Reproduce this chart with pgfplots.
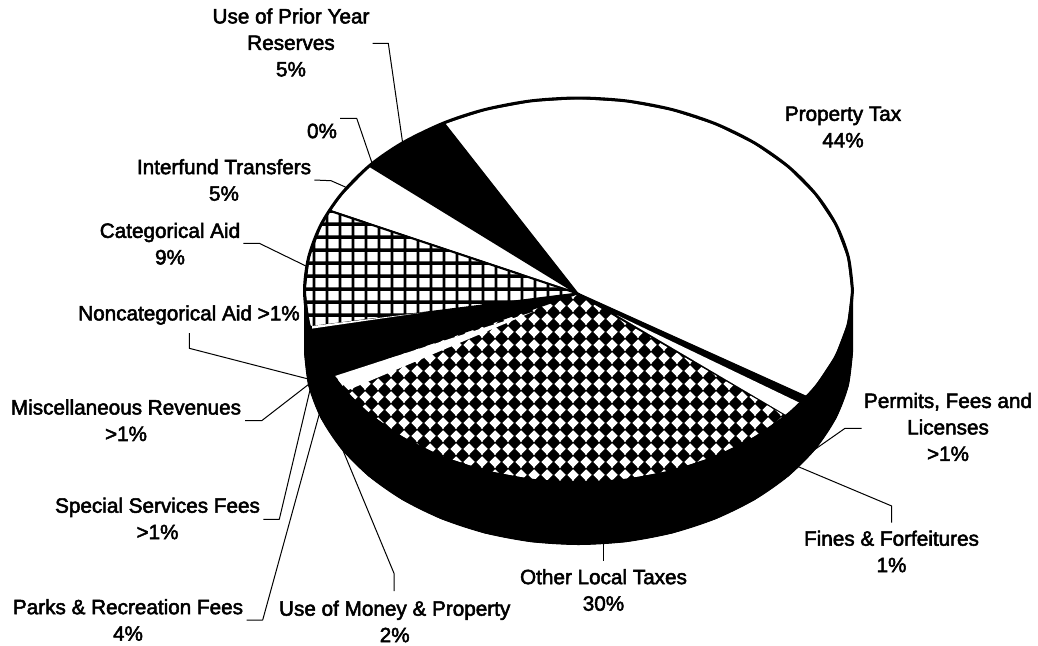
\documentclass[border=0pt]{standalone}
\usepackage{fontspec}
\setmainfont[FakeBold=2.5]{Liberation Sans}
\usepackage{pgfplots}
\usepackage{pgfplotstable}
\pgfplotsset{compat=1.18}
\usetikzlibrary{patterns}
\tikzset{lbl/.style={align=center, font=\fontsize{20.7}{26.5}\selectfont, inner sep=0pt, text=black}}
% square grid of lines, 12.7 px period
\newcommand{\gridrects}[2]{%
  \foreach \k in {-1,0,1}{%
    \pgfmathsetmacro{\xa}{#1+\k*12.7-1.5}%
    \pgfmathsetmacro{\ya}{#2+\k*12.7-1.5}%
    \pgfpathrectangle{\pgfqpoint{\xa pt}{-1pt}}{\pgfqpoint{3pt}{15pt}}%
    \pgfpathrectangle{\pgfqpoint{-1pt}{\ya pt}}{\pgfqpoint{15pt}{3pt}}%
  }%
  \pgfusepath{fill}}
\pgfdeclarepatternformonly{gridlines}{\pgfqpoint{0pt}{0pt}}{\pgfqpoint{12.7pt}{12.7pt}}{\pgfqpoint{12.7pt}{12.7pt}}{\gridrects{9.2}{0.2}}
% square lattice of diamonds
\newcommand{\diamondat}[2]{%
  \pgfpathmoveto{\pgfqpoint{\dimexpr#1pt-5.8pt}{#2pt}}%
  \pgfpathlineto{\pgfqpoint{#1pt}{\dimexpr#2pt+5.8pt}}%
  \pgfpathlineto{\pgfqpoint{\dimexpr#1pt+5.8pt}{#2pt}}%
  \pgfpathlineto{\pgfqpoint{#1pt}{\dimexpr#2pt-5.8pt}}%
  \pgfpathclose}
\pgfdeclarepatternformonly{diamondlattice}{\pgfqpoint{0pt}{0pt}}{\pgfqpoint{12.78pt}{12.72pt}}{\pgfqpoint{12.78pt}{12.72pt}}{%
  \diamondat{7.2}{5.16}\diamondat{-5.58}{5.16}\diamondat{7.2}{17.88}\diamondat{7.2}{-7.56}\diamondat{19.98}{5.16}%
  \pgfusepath{fill}}
\pgfplotstableread{
x y
577.5 293.5
309.5 327.2
308.7 323.9
304.5 290.5
308.7 257.1
321.0 224.7
329.2 210.6
577.5 293.5
}\catsec
\pgfplotstableread{
x y
577.5 293.5
786.8 415.5
754.6 438.0
715.5 457.2
672.2 471.4
626.1 480.1
578.5 483.0
530.9 480.1
484.8 471.4
441.5 457.2
402.4 438.0
368.6 414.3
346.2 392.5
333.3 376.4
577.5 293.5
}\othersec
\pgfplotstableread{
x y
852.5 290.5
848.3 323.9
836.0 356.3
815.8 386.8
788.4 414.2
754.6 438.0
715.5 457.2
672.2 471.4
626.1 480.1
578.5 483.0
530.9 480.1
484.8 471.4
441.5 457.2
402.4 438.0
368.6 414.3
341.2 386.8
321.0 356.3
308.7 323.9
304.5 290.5
308.7 257.1
321.0 224.7
341.2 194.3
369.4 165.8
402.4 143.0
443.7 123.0
484.8 109.6
530.9 100.9
578.5 98.0
626.1 100.9
672.2 109.6
715.5 123.8
754.6 143.0
788.4 166.7
815.8 194.3
836.0 224.7
848.3 257.1
852.5 290.5
}\rim
\begin{document}
\begin{tikzpicture}
\begin{axis}[
  scale only axis, width=1038pt, height=645pt,
  xmin=0, xmax=1038, ymin=0, ymax=645, y dir=reverse,
  hide axis, clip=false,
  every axis plot/.append style={line join=round},
]
\path (axis cs:0,0) rectangle (axis cs:1038,645);
% side of the pie
\addplot[fill=black, draw=black, line width=1pt, smooth] coordinates {
(852.5,352)(848.3,385.4)(836,417.8)(815.8,448.3)(788.4,475.8)(754.6,499.5)(715.5,518.7)(672.2,532.9)(626.1,541.6)(578.5,544.5)(530.9,541.6)(484.8,532.9)(441.5,518.7)(402.4,499.5)(368.6,475.8)(341.2,448.3)(321,417.8)(308.7,385.4)(304.5,352)};
\addplot[fill=black, draw=black, line width=1pt] coordinates {
(852.5,290.5)(852.5,352)(848.3,385.4)(836,417.8)(815.8,448.3)(788.4,475.8)(754.6,499.5)(715.5,518.7)(672.2,532.9)(626.1,541.6)(578.5,544.5)(530.9,541.6)(484.8,532.9)(441.5,518.7)(402.4,499.5)(368.6,475.8)(341.2,448.3)(321,417.8)(308.7,385.4)(304.5,352)(304.5,290.5)(852.5,290.5)};
% Property Tax 44%
\addplot[fill=white, draw=black, line width=2pt] coordinates {
(577.5,293.5)(443.7,123)(484.8,109.6)(530.9,100.9)(578.5,98)(626.1,100.9)(672.2,109.6)(715.5,123.8)(754.6,143)(788.4,166.7)(815.8,194.3)(836,224.7)(848.3,257.1)(852.5,290.5)(848.3,323.9)(836,356.3)(815.8,386.8)(806.7,397)(577.5,293.5)};
% Use of Prior Year Reserves 5%
\addplot[fill=black, draw=black, line width=1pt] coordinates {
(577.5,293.5)(369.4,165.8)(402.4,143)(443.7,123)(577.5,293.5)};
% Interfund Transfers 5%
\addplot[fill=white, draw=black, line width=2pt] coordinates {
(577.5,293.5)(329.2,210.6)(341.2,194.3)(369.4,165.8)(577.5,293.5)};
% Categorical Aid 9%
\addplot[fill=white, draw=none] table {\catsec};
\addplot[pattern=gridlines, pattern color=black, draw=black, line width=2pt] table {\catsec};
% black group: Noncategorical, Misc, Special, Parks
\addplot[fill=black, draw=black, line width=1pt] coordinates {
(577.5,293.5)(333.3,376.4)(321,356.3)(309.5,327.2)(577.5,293.5)};
% Other Local Taxes 30%
\addplot[fill=black, draw=black, line width=2pt] table {\othersec};
\addplot[pattern=diamondlattice, pattern color=white, draw=none] table {\othersec};
\addplot[draw=black, line width=2pt] table {\othersec};
% Permits + Fines
\addplot[fill=black, draw=black, line width=1pt] coordinates {
(577.5,293.5)(806.7,397)(786.8,415.5)(577.5,293.5)};
\addplot[fill=white, draw=none] coordinates {(616.7,315)(800.7,403.3)(787,415.5)(616.7,315)};
% Use of Money & Property
\addplot[fill=white, draw=none] coordinates {(533.3,311.7)(335,376)(348.3,390)(533.3,311.7)};
% Noncategorical sliver
\addplot[fill=white, draw=none] coordinates {(423,312.5)(312,326)(312,328.6)(423,312.5)};
% outline of the top
\addplot[draw=black, line width=3pt, smooth] table {\rim};
% leader lines
\addplot[black, line width=1pt] coordinates {(372.7,43.3)(388.3,43.3)(402.7,143.3)};
\addplot[black, line width=1pt] coordinates {(340,118.3)(356.7,118.3)(372.7,165)};
\addplot[black, line width=1pt] coordinates {(314.3,180)(331,180.7)(348.3,188.3)};
\addplot[black, line width=1pt] coordinates {(243.3,243.3)(259.3,243.3)(307.3,266.7)};
\addplot[black, line width=1pt] coordinates {(189.3,333)(189.3,348.3)(308.3,379)};
\addplot[black, line width=1pt] coordinates {(245,420.7)(261.7,420.7)(310,383.3)};
\addplot[black, line width=1pt] coordinates {(263.3,519.3)(279.3,519.3)(310,390)};
\addplot[black, line width=1pt] coordinates {(246.7,620)(262.7,620)(319.3,414)};
\addplot[black, line width=1pt] coordinates {(394,591)(394,573.3)(340,443.3)};
\addplot[black, line width=1pt] coordinates {(603.3,543.3)(603.3,560.7)};
\addplot[black, line width=1pt] coordinates {(798.3,466.7)(891.7,506)(891.7,522.7)};
\addplot[black, line width=1pt] coordinates {(861.7,428.3)(845,428.3)(815,449.3)};
% labels
\node[lbl] at (axis cs:843,127) {Property Tax\\44\%};
\node[lbl] at (axis cs:291,42.5) {Use of Prior Year\\Reserves\\5\%};
\node[lbl] at (axis cs:322,131) {0\%};
\node[lbl] at (axis cs:224,180) {Interfund Transfers\\5\%};
\node[lbl] at (axis cs:170,243.7) {Categorical Aid\\9\%};
\node[lbl] at (axis cs:189,315) {Noncategorical Aid >1\%};
\node[lbl] at (axis cs:126,420.3) {Miscellaneous Revenues\\>1\%};
\node[lbl] at (axis cs:157.5,518.5) {Special Services Fees\\>1\%};
\node[lbl] at (axis cs:128,620) {Parks \& Recreation Fees\\4\%};
\node[lbl] at (axis cs:394.7,621.5) {Use of Money \& Property\\2\%};
\node[lbl] at (axis cs:603.5,590) {Other Local Taxes\\30\%};
\node[lbl] at (axis cs:891.5,551.5) {Fines \& Forfeitures\\1\%};
\node[lbl] at (axis cs:948,427) {Permits, Fees and\\Licenses\\>1\%};
\end{axis}
\end{tikzpicture}
\end{document}
